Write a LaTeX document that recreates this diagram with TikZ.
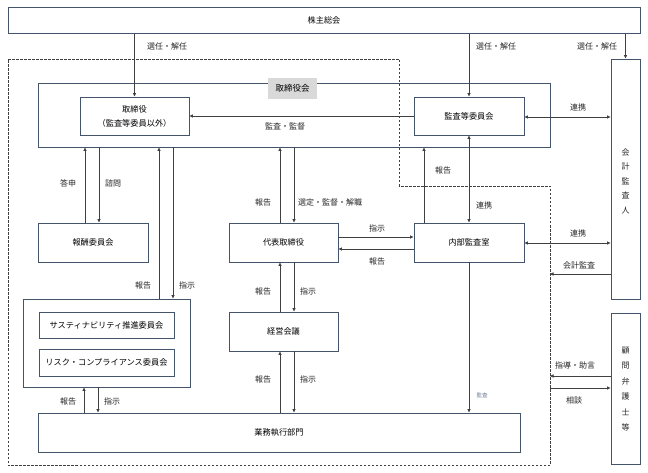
\documentclass[tikz,border=0pt]{standalone}
\usepackage{fontspec}
\setmainfont{Noto Sans CJK JP}
\usetikzlibrary{arrows.meta}
\definecolor{bordercol}{RGB}{68,84,106}
\definecolor{arrcol}{RGB}{64,64,64}
\definecolor{labelgray}{RGB}{217,217,217}
\definecolor{smallcol}{RGB}{110,125,150}
\tikzset{
  box/.style={draw=bordercol, line width=0.9pt, fill=white, inner sep=0pt, font=\fontsize{8.2}{10}\selectfont, text=black},
  arr/.style={draw=arrcol, line width=0.75pt, -{Triangle[length=3.5pt,width=3.2pt]}},
  darr/.style={draw=arrcol, line width=0.75pt, {Triangle[length=3.5pt,width=3.2pt]}-{Triangle[length=3.5pt,width=3.2pt]}},
  lbl/.style={inner sep=0pt, font=\fontsize{8}{10}\selectfont, text=black!85},
  boundary/.style={draw=arrcol, line width=0.7pt, dashed, dash pattern=on 2.5pt off 1.5pt},
}
\begin{document}
\begin{tikzpicture}[x=1pt, y=-1pt]
\useasboundingbox (0,0) rectangle (648,473);
\fill[white] (0,0) rectangle (648,473);

% dashed boundary
\draw[boundary] (8,59) -- (399,59) -- (399,186) -- (550,186) -- (550,465) -- (8,465) -- cycle;

% nodes
\node[box, minimum width=632pt, minimum height=26pt] (soukai) at (324,20.5) {株主総会};
\node[box, fill=none, minimum width=512pt, minimum height=64pt] (torikai) at (294,115) {};
\node[inner sep=0pt, fill=labelgray, minimum width=49pt, minimum height=21pt, font=\fontsize{8.5}{10}\selectfont] (torikailbl) at (292.5,88.5) {取締役会};
\node[box, minimum width=109pt, minimum height=38pt, align=center, font=\fontsize{8.2}{14}\selectfont] (tori) at (134.5,116) {取締役\\（監査等委員以外）};
\node[box, minimum width=110pt, minimum height=38pt] (kansa) at (469,116) {監査等委員会};
\node[box, minimum width=29pt, minimum height=240pt] (kaikei) at (625.5,179) {};
\node[lbl, align=center, font=\fontsize{8}{14.5}\selectfont] (kaikeitxt) at (625.5,181) {会\\計\\監\\査\\人};
\node[box, minimum width=29pt, minimum height=151pt] (komon) at (625.5,388.5) {};
\node[lbl, align=center, font=\fontsize{8}{15.5}\selectfont] (komontxt) at (625.5,389) {顧\\問\\弁\\護\\士\\等};
\node[box, minimum width=110pt, minimum height=39pt] (hoshu) at (93,242.5) {報酬委員会};
\node[box, minimum width=109pt, minimum height=39pt] (daihyo) at (283.5,242.5) {代表取締役};
\node[box, minimum width=110pt, minimum height=39pt] (naibu) at (469,242.5) {内部監査室};
\node[box, minimum width=167pt, minimum height=88pt] (group) at (106.5,343) {};
\node[box, minimum width=135pt, minimum height=26pt] (sus) at (106.5,325) {サスティナビリティ推進委員会};
\node[box, minimum width=135pt, minimum height=27pt] (risk) at (106.5,362.5) {リスク・コンプライアンス委員会};
\node[box, minimum width=109pt, minimum height=39pt] (keiei) at (283.5,331.5) {経営会議};
\node[box, minimum width=482pt, minimum height=39pt] (gyomu) at (279,432.5) {業務執行部門};

% free ends on the dashed boundary
\coordinate (kaikeiend) at (550,274);
\coordinate (komonend) at (550,376);
\coordinate (soudanstart) at (550,388);

% connectors
\draw[arr] (soukai.south -| tori.north) -- (tori.north);
\node[lbl] (l1) at (167,46) {選任・解任};
\draw[arr] (soukai.south -| kansa.north) -- (kansa.north);
\node[lbl] (l2) at (496,46) {選任・解任};
\draw[arr] (soukai.south -| kaikei.north) -- (kaikei.north);
\node[lbl] (l3) at (597,46) {選任・解任};

\draw[arr] (kansa.west) -- (tori.east);
\node[lbl] (l4) at (285,126) {監査・監督};
\draw[darr] (kansa.east |- 0,117) -- (kaikei.west |- 0,117);
\node[lbl] (l5) at (578,107) {連携};

\draw[arr] (hoshu.north -| 85,0) -- (torikai.south -| 85,0);
\node[lbl] (l6) at (68,183) {答申};
\draw[arr] (torikai.south -| 99,0) -- (hoshu.north -| 99,0);
\node[lbl] (l7) at (113,183) {諮問};

\draw[arr] (group.north -| 159,0) -- (torikai.south -| 159,0);
\node[lbl] (l8) at (143,285) {報告};
\draw[arr] (torikai.south -| 173,0) -- (group.north -| 173,0);
\node[lbl] (l9) at (187,285) {指示};

\draw[arr] (daihyo.north -| 280,0) -- (torikai.south -| 280,0);
\node[lbl] (l10) at (263,202) {報告};
\draw[arr] (torikai.south -| 294,0) -- (daihyo.north -| 294,0);
\node[lbl] (l11) at (330,202) {選定・監督・解職};

\draw[arr] (daihyo.east |- 0,237) -- (naibu.west |- 0,237);
\node[lbl] (l12) at (377,228) {指示};
\draw[arr] (naibu.west |- 0,249) -- (daihyo.east |- 0,249);
\node[lbl] (l13) at (377,261) {報告};

\draw[arr] (naibu.north -| 424,0) -- (torikai.south -| 424,0);
\node[lbl] (l14) at (443,170) {報告};
\draw[darr] (kansa.south) -- (naibu.north);
\node[lbl] (l15) at (484,205) {連携};

\draw[darr] (naibu.east |- 0,243) -- (kaikei.west |- 0,243);
\node[lbl] (l16) at (578,233) {連携};
\draw[arr] (kaikei.west |- kaikeiend) -- (kaikeiend);
\node[lbl] (l17) at (579,265) {会計監査};

\draw[arr] (keiei.north -| 280,0) -- (daihyo.south -| 280,0);
\node[lbl] (l18) at (263,291) {報告};
\draw[arr] (daihyo.south -| 294,0) -- (keiei.north -| 294,0);
\node[lbl] (l19) at (308,291) {指示};

\draw[arr] (gyomu.north -| 280,0) -- (keiei.south -| 280,0);
\node[lbl] (l20) at (263,379) {報告};
\draw[arr] (keiei.south -| 294,0) -- (gyomu.north -| 294,0);
\node[lbl] (l21) at (308,379) {指示};

\draw[arr] (gyomu.north -| 84,0) -- (group.south -| 84,0);
\node[lbl] (l22) at (68,401) {報告};
\draw[arr] (group.south -| 98,0) -- (gyomu.north -| 98,0);
\node[lbl] (l23) at (112,401) {指示};

\draw[arr] (naibu.south) -- (gyomu.north -| naibu.south);
\node[lbl, font=\fontsize{5.5}{7}\selectfont, text=smallcol] (l24) at (482,395) {監査};

\draw[arr] (komon.west |- komonend) -- (komonend);
\node[lbl] (l25) at (575,365) {指導・助言};
\draw[arr] (soudanstart) -- (komon.west |- soudanstart);
\node[lbl] (l26) at (574,400) {相談};
\end{tikzpicture}
\end{document}
